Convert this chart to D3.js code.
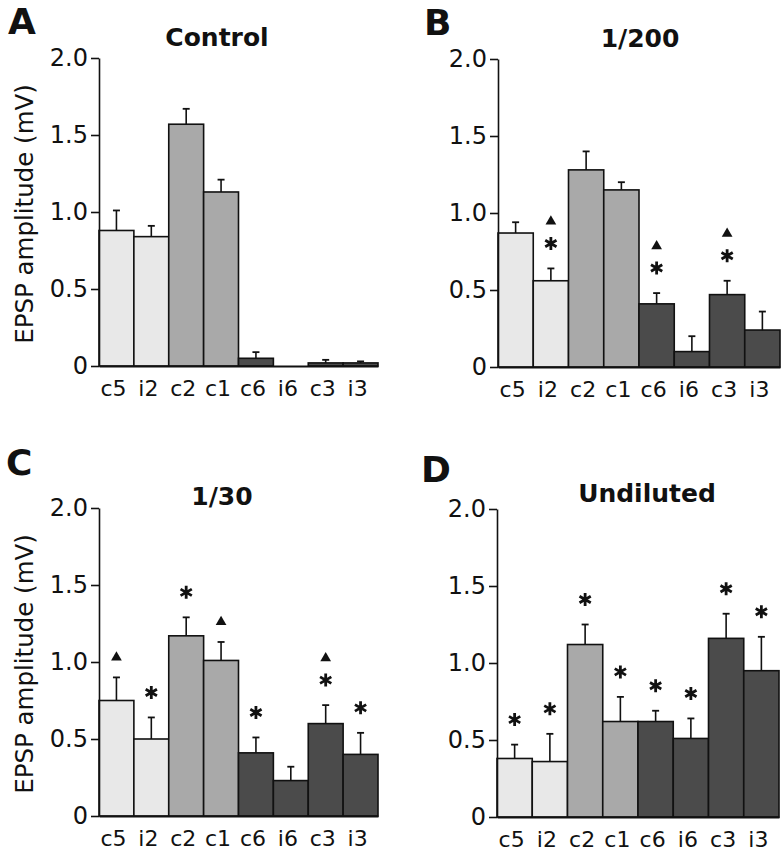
<!DOCTYPE html>
<html>
<head>
<meta charset="utf-8">
<script src="https://cdn.jsdelivr.net/npm/d3@7/dist/d3.min.js"></script>
<style>
  html, body { margin: 0; padding: 0; background: #fff; }
  svg { display: block; }
  text { font-family: "DejaVu Sans", sans-serif; fill: #111; }
</style>
</head>
<body>
<svg id="chart" width="783" height="853"></svg>
<script>
// ---------- data ----------
const categories = ["c5", "i2", "c2", "c1", "c6", "i6", "c3", "i3"];
const shadeGroup = ["light", "light", "mid", "mid", "dark", "dark", "dark", "dark"];
const tickValues = [0, 0.5, 1.0, 1.5, 2.0];
const tickLabels = ["0", "0.5", "1.0", "1.5", "2.0"];
const yAxisTitle = "EPSP amplitude (mV)";

const panelLetters = ["A", "B", "C", "D"];
const panelTitles = ["Control", "1/200", "1/30", "Undiluted"];

const meanControl = [0.88, 0.84, 1.57, 1.13, 0.05, 0.00, 0.02, 0.02];
const semControl  = [0.13, 0.07, 0.10, 0.08, 0.04, 0.00, 0.02, 0.01];
const markControl = ["", "", "", "", "", "", "", ""];

const mean200 = [0.87, 0.56, 1.28, 1.15, 0.41, 0.10, 0.47, 0.24];
const sem200  = [0.07, 0.08, 0.12, 0.05, 0.07, 0.10, 0.09, 0.12];
const mark200 = ["", "*^", "", "", "*^", "", "*^", ""];

const mean30 = [0.75, 0.50, 1.17, 1.01, 0.41, 0.23, 0.60, 0.40];
const sem30  = [0.15, 0.14, 0.12, 0.12, 0.10, 0.09, 0.12, 0.14];
const mark30 = ["^", "*", "*", "^", "*", "", "*^", "*"];

const meanUndiluted = [0.38, 0.36, 1.12, 0.62, 0.62, 0.51, 1.16, 0.95];
const semUndiluted  = [0.09, 0.18, 0.13, 0.16, 0.07, 0.13, 0.16, 0.22];
const markUndiluted = ["*", "*", "*", "*", "*", "*", "*", "*"];

// ---------- styling / layout ----------
const shadeColor = { light: "#e8e8e8", mid: "#a9a9a9", dark: "#4b4b4b" };
const ink = "#111";

const panels = [
  { mean: meanControl, sem: semControl, mark: markControl,
    axisX: 99, right: 378, y0: 366, yTop: 58, yLabel: true,
    letterX: 8, letterY: 34, titleX: 217, titleY: 46 },
  { mean: mean200, sem: sem200, mark: mark200,
    axisX: 498, right: 780, y0: 367, yTop: 59, yLabel: false,
    letterX: 424, letterY: 35, titleX: 640, titleY: 47 },
  { mean: mean30, sem: sem30, mark: mark30,
    axisX: 99, right: 378, y0: 816, yTop: 508, yLabel: true,
    letterX: 6, letterY: 475, titleX: 222, titleY: 505 },
  { mean: meanUndiluted, sem: semUndiluted, mark: markUndiluted,
    axisX: 497, right: 779, y0: 817, yTop: 509, yLabel: false,
    letterX: 421, letterY: 482, titleX: 647, titleY: 502 }
];

const svg = d3.select("#chart");

function asteriskPath(r) {
  let d = "";
  [90, 30, 150].forEach(a => {
    const t = a * Math.PI / 180;
    const dx = r * Math.cos(t), dy = r * Math.sin(t);
    d += `M${-dx},${-dy}L${dx},${dy}`;
  });
  return d;
}
const trianglePath = d3.symbol().type(d3.symbolTriangle).size(50)();

panels.forEach((p, pi) => {
  const g = svg.append("g");
  const x = d3.scaleBand().domain(categories).range([p.axisX, p.right]).padding(0);
  const y = d3.scaleLinear().domain([0, 2]).range([p.y0, p.yTop]);

  // panel letter
  g.append("text")
    .attr("x", p.letterX).attr("y", p.letterY)
    .style("font-size", "36px").style("font-weight", "bold")
    .text(panelLetters[pi]);

  // title
  g.append("text")
    .attr("x", p.titleX).attr("y", p.titleY)
    .attr("text-anchor", "middle")
    .style("font-size", "25px").style("font-weight", "bold")
    .text(panelTitles[pi]);

  // y-axis title
  if (p.yLabel) {
    g.append("text")
      .attr("transform", `translate(33,${(p.y0 + p.yTop) / 2 + 2}) rotate(-90)`)
      .attr("text-anchor", "middle")
      .style("font-size", "24.5px")
      .text(yAxisTitle);
  }

  // bars
  const data = categories.map((c, i) => ({ c, i, m: p.mean[i], s: p.sem[i], mk: p.mark[i], sh: shadeGroup[i] }));
  g.selectAll("rect.bar").data(data).enter().append("rect")
    .attr("class", "bar")
    .attr("x", d => x(d.c))
    .attr("y", d => y(d.m))
    .attr("width", x.bandwidth())
    .attr("height", d => y(0) - y(d.m))
    .attr("fill", d => shadeColor[d.sh])
    .attr("stroke", ink).attr("stroke-width", 1.6);

  // error bars (upper only)
  const eb = g.selectAll("g.err").data(data.filter(d => d.s > 0)).enter().append("g");
  eb.append("line")
    .attr("x1", d => x(d.c) + x.bandwidth() / 2).attr("x2", d => x(d.c) + x.bandwidth() / 2)
    .attr("y1", d => y(d.m)).attr("y2", d => y(d.m + d.s))
    .attr("stroke", ink).attr("stroke-width", 1.6);
  eb.append("line")
    .attr("x1", d => x(d.c) + x.bandwidth() / 2 - 3.5).attr("x2", d => x(d.c) + x.bandwidth() / 2 + 3.5)
    .attr("y1", d => y(d.m + d.s)).attr("y2", d => y(d.m + d.s))
    .attr("stroke", ink).attr("stroke-width", 1.8);

  // significance markers
  data.forEach(d => {
    if (!d.mk) return;
    const cx = x(d.c) + x.bandwidth() / 2;
    const top = y(d.m + d.s);
    const hasStar = d.mk.includes("*");
    const hasTri = d.mk.includes("^");
    if (hasStar) {
      g.append("path")
        .attr("d", asteriskPath(6.5))
        .attr("transform", `translate(${cx},${top - 25})`)
        .attr("stroke", ink).attr("stroke-width", 2.8).attr("fill", "none");
    }
    if (hasTri) {
      const ty = hasStar ? top - 47 : top - 20;
      g.append("path")
        .attr("d", trianglePath)
        .attr("transform", `translate(${cx},${ty})`)
        .attr("fill", ink);
    }
  });

  // y axis
  const yAxis = d3.axisLeft(y)
    .tickValues(tickValues)
    .tickFormat((d, i) => tickLabels[i])
    .tickSize(8).tickSizeOuter(0).tickPadding(3);
  const ya = g.append("g").attr("transform", `translate(${p.axisX},0)`).call(yAxis);
  ya.select(".domain").attr("stroke", ink).attr("stroke-width", 1.6);
  ya.selectAll(".tick line").attr("stroke", ink).attr("stroke-width", 1.6);
  ya.selectAll(".tick text").style("font-size", "24px").style("font-family", "DejaVu Sans").attr("fill", ink);

  // x axis
  const xAxis = d3.axisBottom(x).tickSize(0).tickSizeOuter(0);
  const xa = g.append("g").attr("transform", `translate(0,${p.y0})`).call(xAxis);
  xa.select(".domain").attr("stroke", ink).attr("stroke-width", 1.8);
  xa.selectAll(".tick text")
    .attr("x", -3).attr("y", 30).attr("dy", 0)
    .style("font-size", "22px").style("font-family", "DejaVu Sans").attr("fill", ink);
});
</script>
</body>
</html>
